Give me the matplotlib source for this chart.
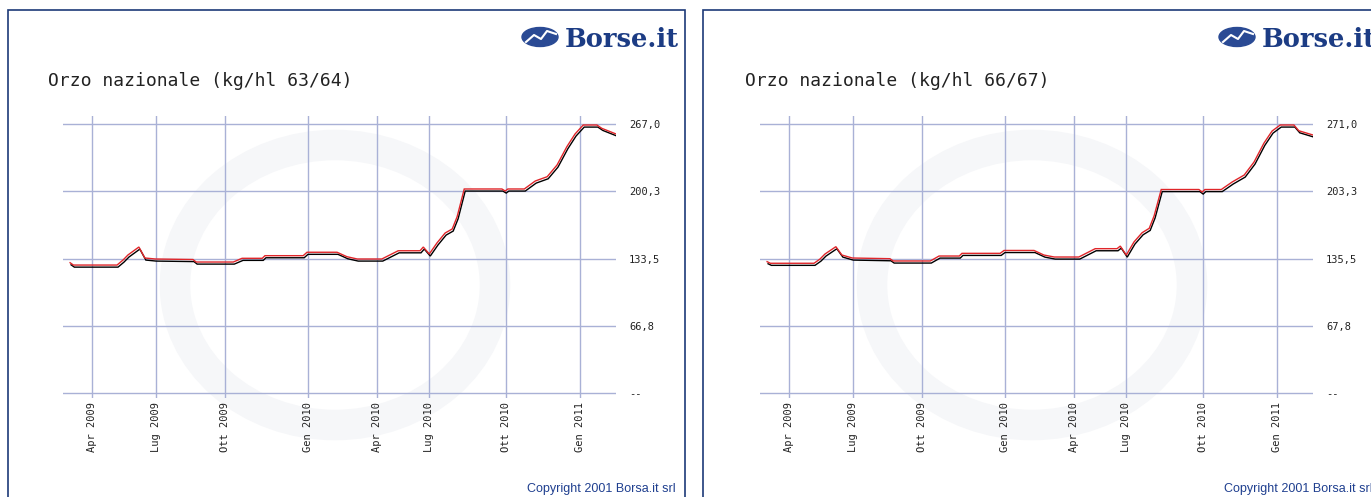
import matplotlib
matplotlib.use("Agg")
import matplotlib.pyplot as plt
import matplotlib.patheffects as pe
from matplotlib.patches import Rectangle, Ellipse

W, H = 1371, 497

# weekly observations (week number from first quote)
weeks = [0, 0.6, 8.6, 9.7, 10.6, 12.6, 13.7, 15.6, 22.5, 23.1, 29.9, 31.5,
         35.2, 35.7, 42.7, 43.4, 48.9, 50.7, 52.6, 57.1, 60.1, 64.1, 64.7,
         65.8, 67.2, 68.7, 70.0, 70.9, 72.2, 79.1, 79.7, 80.2, 83.2, 85.2,
         87.4, 89.2, 91.0, 92.5, 94.0, 96.5, 97.4, 100]

price_63_64 = [129.3, 127.0, 127.0, 132.0, 137.0, 144.9, 134.0, 133.0, 132.5,
               130.0, 130.0, 133.7, 133.7, 136.3, 136.3, 139.7, 139.7, 135.3,
               133.0, 133.0, 141.2, 141.2, 144.9, 138.0, 148.9, 158.8, 162.8,
               175.0, 202.5, 202.5, 200.5, 202.5, 202.5, 210.4, 214.7, 226.3,
               244.5, 257.1, 266.0, 266.0, 262.7, 257.1]

price_66_67 = [132.3, 130.7, 130.7, 135.0, 140.0, 147.4, 139.0, 136.0, 135.3,
               133.0, 133.0, 138.0, 138.0, 140.7, 140.7, 143.6, 143.6, 139.0,
               137.0, 137.0, 145.4, 145.4, 148.0, 139.0, 152.1, 161.5, 165.9,
               178.5, 205.0, 205.0, 202.5, 205.0, 205.0, 212.6, 219.6, 232.7,
               251.6, 263.9, 270.0, 270.0, 264.2, 259.9]

tick_weeks = [4.0, 15.75, 28.4, 43.6, 56.2, 65.8, 79.9, 93.4]
tick_labels = ['Apr 2009', 'Lug 2009', 'Ott 2009', 'Gen 2010',
               'Apr 2010', 'Lug 2010', 'Ott 2010', 'Gen 2011']

titles = ['Orzo nazionale (kg/hl 63/64)', 'Orzo nazionale (kg/hl 66/67)']
y_tops = [267.0, 271.0]
y_labels = [['--', '66,8', '133,5', '200,3', '267,0'],
            ['--', '67,8', '135,5', '203,3', '271,0']]

NAVY = '#1c3a78'
GRID = '#a9b1d6'
RED = '#e0262a'


def fx(x):
    return x / W


def fy(y):
    return 1 - y / H


def draw_panel(fig, off, frame_x, title, prices, top, ylabels):
    # frame
    fig.patches.append(Rectangle((fx(frame_x), fy(520)), fx(677), 510 / H,
                                 transform=fig.transFigure, fill=False,
                                 edgecolor=NAVY, lw=1.2))

    # faint watermark behind the plot
    fig.patches.append(Ellipse((fx(off + 335), fy(285)), fx(320), 280 / H,
                               transform=fig.transFigure, fill=False,
                               edgecolor='#f6f7f9', lw=22, zorder=-5))

    # logo
    fig.patches.append(Ellipse((fx(off + 540), fy(37)), fx(36), 19 / H,
                               transform=fig.transFigure, color='#2a4a94'))
    fig.lines.append(plt.Line2D([fx(off + 526), fx(off + 534), fx(off + 541),
                                 fx(off + 547), fx(off + 556)],
                                [fy(42), fy(35), fy(39), fy(31), fy(34)],
                                transform=fig.transFigure, color='white', lw=1.5))
    fig.text(fx(off + 679), fy(47), 'Borse.it', ha='right', va='baseline',
             family='DejaVu Serif', weight='bold', size=18.5, color='#1c3c84')

    fig.text(fx(off + 48), fy(81), title, ha='left', va='center',
             family='DejaVu Sans Mono', size=13, color='#222222')

    fig.text(fx(off + 676), fy(489), 'Copyright 2001 Borsa.it srl',
             ha='right', va='center', family='Liberation Sans', size=9,
             color='#1f3f8f')

    ax = fig.add_axes([fx(off + 63), fy(398), 553 / W, 282 / H])
    ax.set_zorder(2)
    ax.set_facecolor('none')
    for s in ax.spines.values():
        s.set_visible(False)

    scale = top / 269.0
    ax.set_xlim(-1.3, 100)
    ax.set_ylim(-5 * scale, top + 8 * scale)

    ax.set_xticks(tick_weeks, tick_labels, rotation=90, va='top', ha='center',
                  family='DejaVu Sans Mono', size=7.5, color='#222222')
    ax.yaxis.tick_right()
    ax.set_yticks([top * k / 4 for k in range(5)], ylabels,
                  family='DejaVu Sans Mono', size=7.5, color='#222222')
    ax.tick_params(axis='x', length=0, pad=3)
    ax.tick_params(axis='y', length=0, pad=9.5)
    ax.grid(color=GRID, lw=1.0)
    ax.set_axisbelow(True)

    ax.plot(weeks, prices, color=RED, lw=1.0, solid_joinstyle='miter',
            path_effects=[pe.SimpleLineShadow(offset=(0.7, -1.5),
                                              shadow_color='black', alpha=1.0),
                          pe.Normal()])
    return ax


fig = plt.figure(figsize=(W / 100, H / 100), dpi=100, facecolor='white')

draw_panel(fig, 0, 8, titles[0], price_63_64, y_tops[0], y_labels[0])
draw_panel(fig, 697, 703, titles[1], price_66_67, y_tops[1], y_labels[1])

fig.savefig('out.png', dpi=100, facecolor='white')
